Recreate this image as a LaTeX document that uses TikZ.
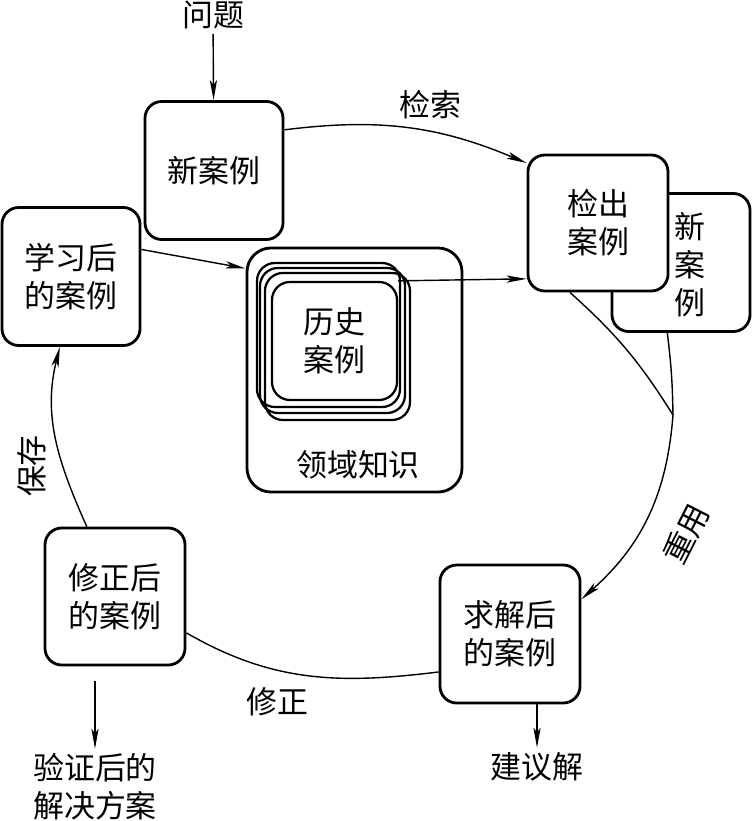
\documentclass[tikz,border=0pt]{standalone}
\usepackage{fontspec}
\setmainfont{Noto Sans CJK SC}
\usetikzlibrary{arrows.meta}

\begin{document}
\begin{tikzpicture}[
  x=0.025cm,y=-0.025cm,>={Stealth[length=0.5cm,width=0.18cm,inset=0.12cm]},
  casebox/.style={draw,line width=2pt,rounded corners=0.42cm,fill=white,align=center,minimum width=3.45cm,minimum height=3.45cm,font=\fontsize{22pt}{27pt}\selectfont},
  histbox/.style={draw,line width=1.6pt,rounded corners=0.45cm},
  caption/.style={align=center,font=\fontsize{22pt}{27pt}\selectfont},
  flow/.style={->,line width=1pt},
  link/.style={line width=1pt}
]
\useasboundingbox (0,0) rectangle (752,821);
\node[caption] (problem) at (213,15) {问题};
\node[casebox] (new) at (214,170.5) {新案例};
\node[casebox] (newback) at (681,262.5) {};
\node[caption] (newcol) at (690,265) {新\\案\\例};
\node[casebox,minimum width=3.5cm,minimum height=3.4cm] (retrieved) at (598,223) {检出\\案例};
\node[casebox] (learned) at (71,276.5) {学习后\\的案例};
\node[draw,line width=2pt,rounded corners=0.6cm,minimum width=5.375cm,minimum height=6.1cm] (domain) at (354.5,370) {};
\node[caption] (domainlabel) at (358,465) {领域知识};
\foreach \name/\cx/\cy/\w/\h in {histA/328.5/335/3.575/3.6, histB/332.5/340.5/3.625/3.625, histC/337.5/346.5/3.625/3.675}
  \node[histbox,minimum width=\w cm,minimum height=\h cm] (\name) at (\cx,\cy) {};
\node[histbox,align=center,minimum width=3.125cm,minimum height=2.95cm,font=\fontsize{22pt}{27pt}\selectfont] (hist) at (334.5,341) {历史\\案例};
\node[casebox,minimum width=3.5cm] (solved) at (510,634) {求解后\\的案例};
\node[caption] (suggest) at (537,767) {建议解};
\node[casebox,minimum width=3.5cm,minimum height=3.425cm] (revised) at (115,596.5) {修正后\\的案例};
\node[caption] (verified) at (95,787) {验证后的\\解决方案};
% cycle
\draw[flow] (problem) -- (new);
\draw[flow] (new.30) to[bend left=15] (retrieved.140);
\node[caption] (retrievelabel) at (430,105) {检索};
\draw[flow] (learned.21) -- (domain.137);
\draw[flow] (hist.north east) -- (retrieved.218);
\coordinate (merge) at (673,415);
\draw[link] (retrieved.248) to[bend left=8] (merge);
\draw[link] (newback.259) to[bend left=3] (merge);
\draw[flow] (merge) to[bend left=22] (solved.26);
\node[caption,rotate=63] (reuselabel) at (686,534) {重用};
\draw[flow] (solved.south -| suggest.north) -- (suggest.north);
\draw[link] (solved.208) to[out=187,in=-30] (revised.-27);
\node[caption] (revisionlabel) at (277,702) {修正};
\draw[flow,shorten <=0.375cm] (verified.north |- revised.south) -- (verified.north);
\draw[flow] (revised.112) to[out=114,in=256] (learned.261);
\node[caption,rotate=90] (savelabel) at (32,466) {保存};
\end{tikzpicture}
\end{document}
